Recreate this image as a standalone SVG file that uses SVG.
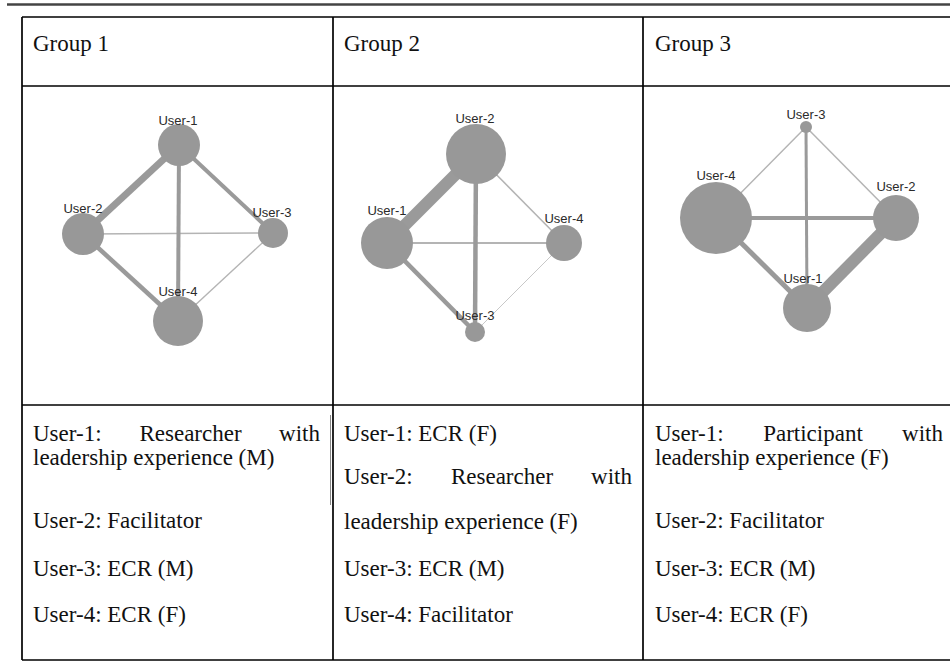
<svg xmlns="http://www.w3.org/2000/svg" width="950" height="664" viewBox="0 0 950 664">
<style>
.bg{fill:#fff}
.rule{stroke:#444;stroke-width:2.5}
.tl{stroke:#000;stroke-width:1.7;fill:none}
.art{stroke:#888;stroke-width:1}
.tx{font-family:"Liberation Serif","Times New Roman",serif;font-size:23px;fill:#111}
.mid{text-anchor:middle}
.end{text-anchor:end}
.node{fill:#989898}
.lbl{font-family:"Liberation Sans",Arial,Helvetica,sans-serif;font-size:13px;fill:#2a2a2a;text-anchor:middle}
.e{stroke:#9a9a9a;stroke-linecap:butt;fill:none}
.thin{stroke:#b4b4b4}
.faint{stroke:#c8c8c8}
</style>
<rect class="bg" x="0" y="0" width="950" height="664"/>
<g id="table">
<line class="rule" x1="7" y1="4.5" x2="950" y2="4.5"/>
<line class="tl" x1="22" y1="17" x2="950" y2="17"/>
<line class="tl" x1="22" y1="86" x2="950" y2="86"/>
<line class="tl" x1="22" y1="405" x2="950" y2="405"/>
<line class="tl" x1="22" y1="660" x2="950" y2="660"/>
<line class="tl" x1="22" y1="17" x2="22" y2="660"/>
<line class="tl" x1="333" y1="17" x2="333" y2="660"/>
<line class="tl" x1="643" y1="17" x2="643" y2="660"/>
<line class="art" x1="330.5" y1="415" x2="330.5" y2="505"/>
</g>
<g id="headers">
<text class="tx" x="33" y="51">Group 1</text>
<text class="tx" x="344" y="51">Group 2</text>
<text class="tx" x="655" y="51">Group 3</text>
</g>
<g id="col1-text">
<text class="tx" x="33" y="441">User-1:</text>
<text class="tx mid" x="190.5" y="441">Researcher</text>
<text class="tx end" x="320" y="441">with</text>
<text class="tx" x="33" y="465">leadership experience (M)</text>
<text class="tx" x="33" y="528">User-2: Facilitator</text>
<text class="tx" x="33" y="576">User-3: ECR (M)</text>
<text class="tx" x="33" y="622">User-4: ECR (F)</text>
</g>
<g id="col2-text">
<text class="tx" x="344" y="441">User-1: ECR (F)</text>
<text class="tx" x="344" y="484">User-2:</text>
<text class="tx mid" x="502" y="484">Researcher</text>
<text class="tx end" x="632" y="484">with</text>
<text class="tx" x="344" y="529">leadership experience (F)</text>
<text class="tx" x="344" y="576">User-3: ECR (M)</text>
<text class="tx" x="344" y="622">User-4: Facilitator</text>
</g>
<g id="col3-text">
<text class="tx" x="655" y="441">User-1:</text>
<text class="tx mid" x="813" y="441">Participant</text>
<text class="tx end" x="943" y="441">with</text>
<text class="tx" x="655" y="465">leadership experience (F)</text>
<text class="tx" x="655" y="528">User-2: Facilitator</text>
<text class="tx" x="655" y="576">User-3: ECR (M)</text>
<text class="tx" x="655" y="622">User-4: ECR (F)</text>
</g>
<g id="connectors">
<g id="g1-edges">
<line class="e thin" x1="83" y1="234" x2="273" y2="233" stroke-width="1.5"/>
<line class="e thin" x1="273" y1="233" x2="178" y2="321" stroke-width="1.4"/>
<line class="e" x1="179" y1="145" x2="273" y2="233" stroke-width="4"/>
<line class="e" x1="83" y1="234" x2="178" y2="321" stroke-width="4.5"/>
<line class="e" x1="179" y1="145" x2="178" y2="321" stroke-width="4"/>
<line class="e" x1="179" y1="145" x2="83" y2="234" stroke-width="7"/>
</g>
<g id="g2-edges">
<line class="e faint" x1="475" y1="332" x2="564" y2="243" stroke-width="1"/>
<line class="e thin" x1="476" y1="154" x2="564" y2="243" stroke-width="1.5"/>
<line class="e thin" x1="387" y1="243" x2="564" y2="243" stroke-width="2"/>
<line class="e" x1="387" y1="243" x2="475" y2="332" stroke-width="4.5"/>
<line class="e" x1="476" y1="154" x2="475" y2="332" stroke-width="4.5"/>
<line class="e" x1="476" y1="154" x2="387" y2="243" stroke-width="12"/>
</g>
<g id="g3-edges">
<line class="e thin" x1="806" y1="127" x2="716" y2="218" stroke-width="1.5"/>
<line class="e thin" x1="806" y1="127" x2="896" y2="218" stroke-width="1.5"/>
<line class="e" x1="806" y1="127" x2="807" y2="308" stroke-width="3"/>
<line class="e" x1="716" y1="218" x2="896" y2="218" stroke-width="4"/>
<line class="e" x1="716" y1="218" x2="807" y2="308" stroke-width="5"/>
<line class="e" x1="896" y1="218" x2="807" y2="308" stroke-width="12"/>
</g>
</g>
<g id="g1-user1"><circle class="node" cx="179" cy="145" r="21"/><text class="lbl" x="178" y="124.5">User-1</text></g>
<g id="g1-user2"><circle class="node" cx="83" cy="234" r="21"/><text class="lbl" x="83" y="212.5">User-2</text></g>
<g id="g1-user3"><circle class="node" cx="273" cy="233" r="15"/><text class="lbl" x="272" y="216.5">User-3</text></g>
<g id="g1-user4"><circle class="node" cx="178" cy="321" r="25"/><text class="lbl" x="178" y="295.5">User-4</text></g>
<g id="g2-user1"><circle class="node" cx="387" cy="243" r="26"/><text class="lbl" x="387" y="214.5">User-1</text></g>
<g id="g2-user2"><circle class="node" cx="476" cy="154" r="30"/><text class="lbl" x="475" y="122.5">User-2</text></g>
<g id="g2-user3"><circle class="node" cx="475" cy="332" r="10"/><text class="lbl" x="475" y="319.5">User-3</text></g>
<g id="g2-user4"><circle class="node" cx="564" cy="243" r="18"/><text class="lbl" x="564" y="222.5">User-4</text></g>
<g id="g3-user1"><circle class="node" cx="807" cy="308" r="24"/><text class="lbl" x="803" y="282.5">User-1</text></g>
<g id="g3-user2"><circle class="node" cx="896" cy="218" r="23"/><text class="lbl" x="896" y="190.5">User-2</text></g>
<g id="g3-user3"><circle class="node" cx="806" cy="127" r="6"/><text class="lbl" x="806" y="118.5">User-3</text></g>
<g id="g3-user4"><circle class="node" cx="716" cy="218" r="36"/><text class="lbl" x="716" y="179.5">User-4</text></g>
</svg>
